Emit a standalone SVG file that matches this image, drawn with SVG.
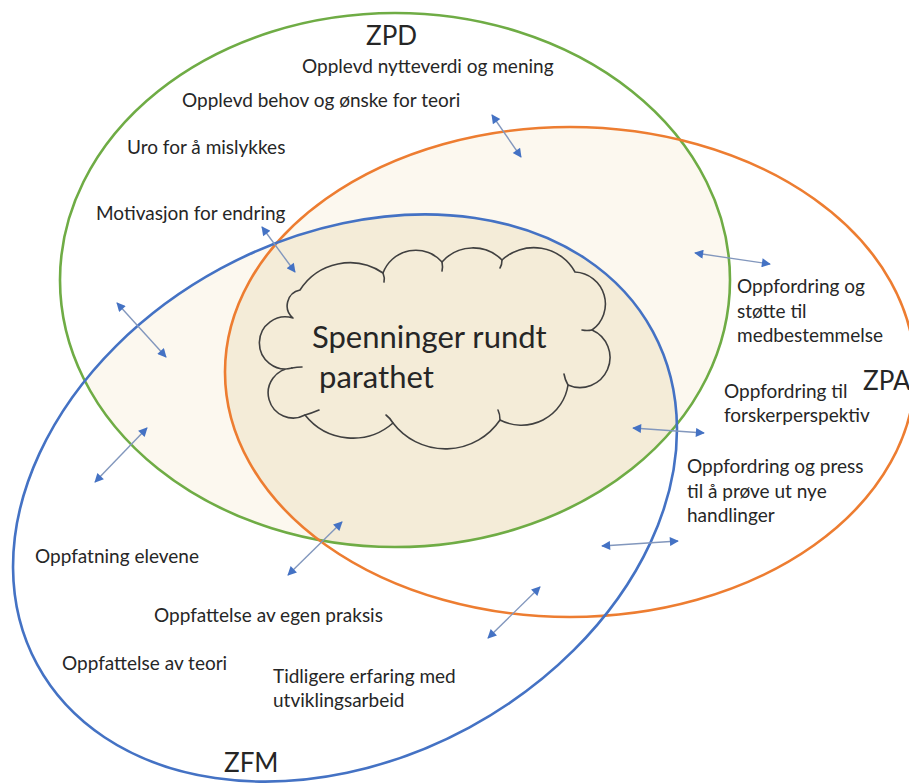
<svg xmlns="http://www.w3.org/2000/svg" width="909" height="783" viewBox="0 0 909 783">
  <defs>
    <style>
      .zone { fill: none; stroke-width: 2.6; }
      .zpd { stroke: #6fac45; }
      .zpa { stroke: #ed7d31; }
      .zfm { stroke: #4472c4; }
      .lbl { font-family: Lato, "Liberation Sans", sans-serif; font-size: 19px; fill: #262626; }
      .zname { font-family: Lato, "Liberation Sans", sans-serif; font-size: 26px; fill: #262626; }
      .big { font-family: Lato, "Liberation Sans", sans-serif; font-size: 31px; fill: #262626; }
      .arr { stroke: #8297bd; stroke-width: 1.4; fill: none; marker-start: url(#ah); marker-end: url(#ah); }
      .cloud { fill: none; stroke: #404040; stroke-width: 1.6; stroke-linecap: round; stroke-linejoin: round; }
      .light { fill: #fcf8ef; }
      .dark { fill: #f4ecd8; }
    </style>
    <marker id="ah" viewBox="0 0 10 10" refX="9" refY="5" markerWidth="11" markerHeight="9" markerUnits="userSpaceOnUse" orient="auto-start-reverse">
      <path d="M0,0 L10,5 L0,10 z" fill="#4472c4"/>
    </marker>
    <clipPath id="clipZPA">
      <ellipse cx="570" cy="372" rx="345" ry="245"/>
    </clipPath>
    <clipPath id="clipZFM">
      <ellipse cx="345" cy="498" rx="350" ry="261" transform="rotate(-28.4 345 498)"/>
    </clipPath>
  </defs>

  <rect width="909" height="783" fill="#ffffff"/>

  <!-- shaded overlaps: ZPD with ZPA or ZFM light, all three darker -->
  <g id="overlaps">
    <ellipse class="light" cx="395" cy="280" rx="335" ry="267" clip-path="url(#clipZPA)"/>
    <ellipse class="light" cx="395" cy="280" rx="335" ry="267" clip-path="url(#clipZFM)"/>
    <g clip-path="url(#clipZPA)">
      <ellipse class="dark" cx="395" cy="280" rx="335" ry="267" clip-path="url(#clipZFM)"/>
    </g>
  </g>

  <g id="zpd">
    <ellipse class="zone zpd" cx="395" cy="280" rx="335" ry="267"/>
    <text class="zname" x="366" y="45">ZPD</text>
    <text class="lbl" x="302" y="73">Opplevd nytteverdi og mening</text>
    <text class="lbl" x="182" y="107">Opplevd behov og ønske for teori</text>
    <text class="lbl" x="127" y="154">Uro for å mislykkes</text>
    <text class="lbl" x="96" y="220">Motivasjon for endring</text>
  </g>

  <g id="zpa">
    <ellipse class="zone zpa" cx="570" cy="372" rx="345" ry="245"/>
    <text class="zname" x="863" y="390">ZPA</text>
    <text class="lbl" x="737" y="293">Oppfordring og</text>
    <text class="lbl" x="737" y="318">støtte til</text>
    <text class="lbl" x="737" y="342">medbestemmelse</text>
    <text class="lbl" x="724" y="398">Oppfordring til</text>
    <text class="lbl" x="724" y="422">forskerperspektiv</text>
    <text class="lbl" x="687" y="473">Oppfordring og press</text>
    <text class="lbl" x="687" y="498">til å prøve ut nye</text>
    <text class="lbl" x="687" y="522">handlinger</text>
  </g>

  <g id="zfm">
    <ellipse class="zone zfm" cx="345" cy="498" rx="350" ry="261" transform="rotate(-28.4 345 498)"/>
    <text class="zname" x="224" y="772">ZFM</text>
    <text class="lbl" x="35" y="563">Oppfatning elevene</text>
    <text class="lbl" x="154" y="622">Oppfattelse av egen praksis</text>
    <text class="lbl" x="62" y="670">Oppfattelse av teori</text>
    <text class="lbl" x="273" y="683">Tidligere erfaring med</text>
    <text class="lbl" x="273" y="707">utviklingsarbeid</text>
  </g>

  <g id="cloud">
    <path class="cloud" d="M300,290
      A59,59 0 0 1 383,273
      A35,35 0 0 1 442,262
      A41,41 0 0 1 502,260
      A47,47 0 0 1 575,272
      A32,32 0 0 1 592,330
      A30,30 0 0 1 568,385
      A47,47 0 0 1 500,420
      A66,66 0 0 1 393,423
      A61,61 0 0 1 305,415
      A25,25 0 1 1 292,368
      A26,26 0 1 1 293,318
      A16,16 0 0 1 300,290 Z"/>
    <!-- inner fold strokes of the cloud -->
    <path class="cloud" d="M383,273 q2,5 1,9"/>
    <path class="cloud" d="M442,262 q1,5 0,9"/>
    <path class="cloud" d="M502,260 q0,5 -2,8"/>
    <path class="cloud" d="M592,330 q-5,1 -10,0"/>
    <path class="cloud" d="M568,385 q-3,-5 -4,-11"/>
    <path class="cloud" d="M500,420 q0,-6 -2,-10"/>
    <path class="cloud" d="M393,423 q-3,-5 -7,-8"/>
    <path class="cloud" d="M305,415 q7,-2 14,-5"/>
    <path class="cloud" d="M292,368 q5,-1 10,-1"/>
    <text class="big" x="312" y="348">Spenninger rundt</text>
    <text class="big" x="319" y="388">parathet</text>
  </g>

  <g id="connectors">
    <line class="arr" x1="492" y1="115" x2="521" y2="157"/>
    <line class="arr" x1="262" y1="227" x2="295" y2="272"/>
    <line class="arr" x1="117" y1="303" x2="166" y2="357"/>
    <line class="arr" x1="147" y1="428" x2="95" y2="482"/>
    <line class="arr" x1="342" y1="522" x2="288" y2="575"/>
    <line class="arr" x1="695" y1="253" x2="770" y2="264"/>
    <line class="arr" x1="633" y1="428" x2="704" y2="433"/>
    <line class="arr" x1="602" y1="546" x2="678" y2="541"/>
    <line class="arr" x1="540" y1="587" x2="488" y2="638"/>
  </g>
</svg>
